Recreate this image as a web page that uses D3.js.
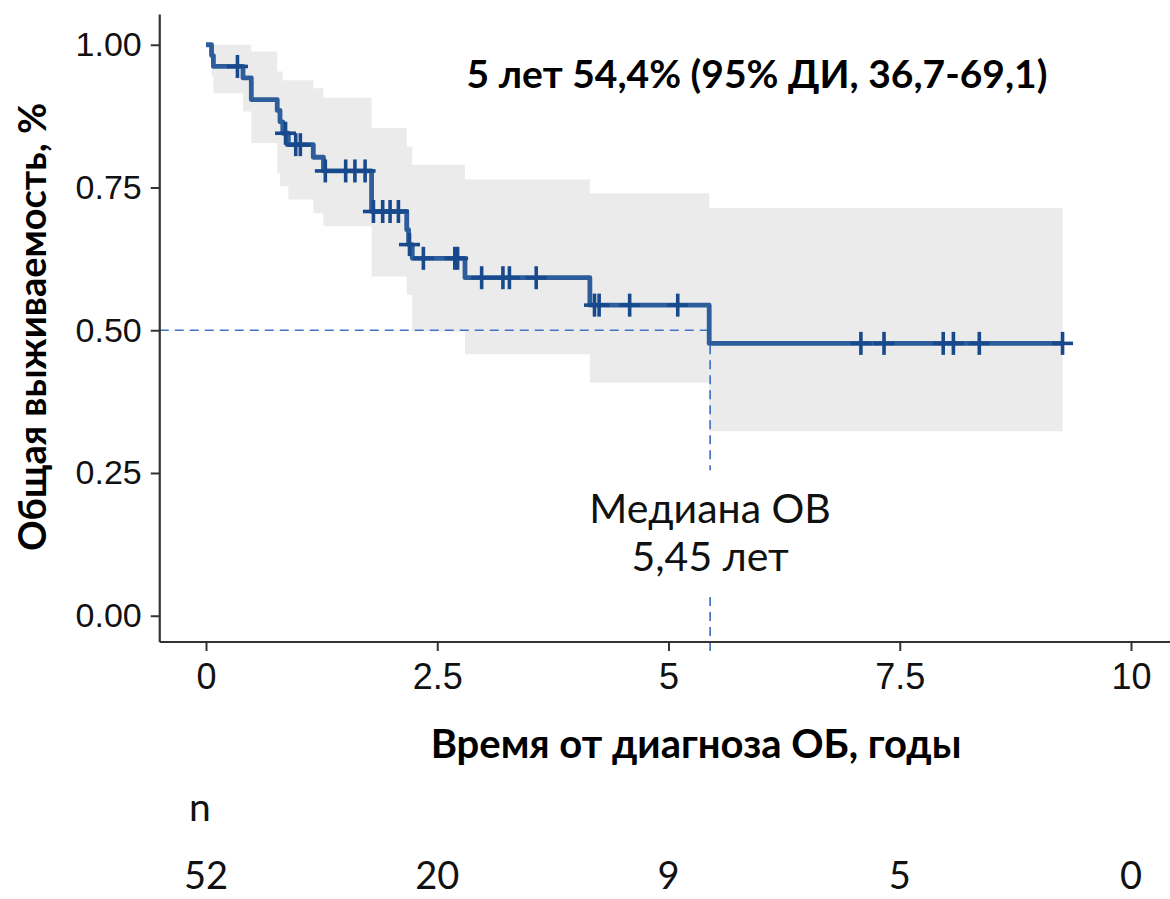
<!DOCTYPE html>
<html>
<head>
<meta charset="utf-8">
<script src="https://cdn.jsdelivr.net/npm/d3@7"></script>
<style>
  html, body { margin: 0; padding: 0; background: #fff; }
  svg { display: block; }
</style>
</head>
<body>
<svg id="chart" width="1170" height="899"></svg>
<script>
// Kaplan–Meier estimate: event times (years) and survival right after each event
const eventTimes = [0.06, 0.08, 0.40, 0.49, 0.77, 0.80, 0.83, 0.89, 1.16, 1.27, 1.79, 2.17, 2.19, 2.23, 2.80, 4.15, 5.44];
const survival   = [0.981, 0.962, 0.942, 0.904, 0.885, 0.865, 0.845, 0.825, 0.803, 0.779, 0.708, 0.676, 0.650, 0.626, 0.592, 0.544, 0.477];

// Censored observations (years)
const censorTimes = [0.34, 0.86, 0.97, 1.02, 1.29, 1.51, 1.61, 1.72, 1.81, 1.91, 1.99, 2.08, 2.20, 2.35, 2.69, 2.72,
                     2.98, 3.21, 3.28, 3.57, 4.20, 4.25, 4.58, 5.10, 7.08, 7.33, 7.97, 8.08, 8.36, 9.26];

// 95% confidence band, piecewise constant from each start time
const bandTimes = [0, 0.06, 0.08, 0.40, 0.49, 0.77, 0.80, 0.83, 0.89, 1.16, 1.27, 1.79, 2.17, 2.19, 2.23, 2.80, 4.15, 5.44, 9.26];
const bandUpper = [1.0, 1.0, 1.0, 1.0, 0.988, 0.953, 0.953, 0.938, 0.938, 0.924, 0.907, 0.854, 0.822, 0.822, 0.790, 0.764, 0.740, 0.714, 0.714];
const bandLower = [1.0, 0.945, 0.915, 0.883, 0.828, 0.775, 0.752, 0.752, 0.729, 0.705, 0.682, 0.594, 0.562, 0.562, 0.498, 0.458, 0.408, 0.323, 0.323];

// Axis ticks
const xTicks = [0, 2.5, 5, 7.5, 10];
const xTickLabels = ["0", "2.5", "5", "7.5", "10"];
const yTicks = [0, 0.25, 0.5, 0.75, 1.0];
const yTickLabels = ["0.00", "0.25", "0.50", "0.75", "1.00"];

// Number at risk at each x tick
const atRisk = [52, 20, 9, 5, 0];

const medianTime = 5.45;
const medianSurv = 0.5;

const titleText = "5 лет 54,4% (95% ДИ, 36,7-69,1)";
const xTitle = "Время от диагноза ОБ, годы";
const yTitle = "Общая выживаемость, %";
const medianLines = ["Медиана ОВ", "5,45 лет"];

const svg = d3.select("#chart");

const x = d3.scaleLinear().domain([-0.5, 10.5]).range([159.75, 1177.25]);
const y = d3.scaleLinear().domain([-0.046, 1.053]).range([642, 14.5]);

const sansNarrow = "'Liberation Sans Narrow', 'Liberation Sans', Arial, sans-serif";
const sans = "'Liberation Sans', Arial, sans-serif";
const humanist = "Lato, 'Open Sans', sans-serif";

// Confidence band
const band = bandTimes.map((t, i) => ({ t, lo: bandLower[i], hi: bandUpper[i] }));
svg.append("path")
  .datum(band)
  .attr("fill", "#ebebeb")
  .attr("d", d3.area()
    .curve(d3.curveStepAfter)
    .x(d => x(d.t))
    .y0(d => y(d.lo))
    .y1(d => y(d.hi)));

// Median reference lines
const dashColor = "#4472c4";
const dash = sel => sel.attr("stroke", dashColor).attr("stroke-width", 1.7).attr("stroke-dasharray", "9,6");
svg.append("line")
  .attr("x1", x(-0.5)).attr("x2", x(medianTime))
  .attr("y1", y(medianSurv)).attr("y2", y(medianSurv))
  .call(dash);
svg.append("line")
  .attr("x1", x(medianTime)).attr("x2", x(medianTime))
  .attr("y1", y(medianSurv)).attr("y2", y(0.255))
  .call(dash);
svg.append("line")
  .attr("x1", x(medianTime)).attr("x2", x(medianTime))
  .attr("y1", y(0.033)).attr("y2", y(-0.072))
  .call(dash);

// Survival step curve
const lastCensor = censorTimes[censorTimes.length - 1];
const curvePts = [{ t: 0, s: 1 }]
  .concat(eventTimes.map((t, i) => ({ t, s: survival[i] })))
  .concat([{ t: lastCensor, s: survival[survival.length - 1] }]);
const survAt = t => {
  let s = 1;
  eventTimes.forEach((et, i) => { if (et <= t) s = survival[i]; });
  return s;
};
svg.append("path")
  .datum(curvePts)
  .attr("fill", "none")
  .attr("stroke", "#2e5d9b")
  .attr("stroke-width", 4.8)
  .attr("stroke-linejoin", "round")
  .attr("d", d3.line().curve(d3.curveStepAfter).x(d => x(d.t)).y(d => y(d.s)));

// Censor marks
const marks = svg.append("g").attr("stroke", "#17498c").attr("stroke-width", 3.6);
censorTimes.forEach(t => {
  const cx = x(t), cy = y(survAt(t));
  marks.append("line").attr("x1", cx - 10.5).attr("x2", cx + 10.5).attr("y1", cy).attr("y2", cy);
  marks.append("line").attr("x1", cx).attr("x2", cx).attr("y1", cy - 11.5).attr("y2", cy + 11.5);
});

// Axes
const axisColor = "#333333";
const xAxis = svg.append("g")
  .attr("transform", `translate(0,${y(-0.046)})`)
  .call(d3.axisBottom(x).tickValues(xTicks).tickSize(9).tickPadding(12)
    .tickFormat((d, i) => xTickLabels[i]));
xAxis.select(".domain").attr("stroke", axisColor).attr("stroke-width", 2.2);
xAxis.selectAll(".tick line").attr("stroke", axisColor).attr("stroke-width", 2);
xAxis.selectAll(".tick text")
  .attr("fill", "#111").attr("font-family", sansNarrow).attr("font-size", 36);

const yAxis = svg.append("g")
  .attr("transform", `translate(${x(-0.5)},0)`)
  .call(d3.axisLeft(y).tickValues(yTicks).tickSize(9).tickPadding(9)
    .tickFormat((d, i) => yTickLabels[i]));
yAxis.select(".domain").attr("stroke", axisColor).attr("stroke-width", 2.2);
yAxis.selectAll(".tick line").attr("stroke", axisColor).attr("stroke-width", 2);
yAxis.selectAll(".tick text")
  .attr("fill", "#111").attr("font-family", sans).attr("font-size", 34);

// Plain axis lines meeting at the corner
xAxis.select(".domain").attr("d", `M${x(-0.5)},0H${x(10.5)}`);
yAxis.select(".domain").attr("d", `M0,${y(1.053)}V${y(-0.046)}`);

// Titles
svg.append("text")
  .attr("x", 757).attr("y", 88)
  .attr("text-anchor", "middle")
  .attr("font-family", humanist).attr("font-weight", "bold").attr("font-size", 39)
  .attr("fill", "#000")
  .text(titleText);

svg.append("text")
  .attr("x", 696).attr("y", 758)
  .attr("text-anchor", "middle")
  .attr("font-family", humanist).attr("font-weight", "bold").attr("font-size", 40)
  .attr("fill", "#000")
  .text(xTitle);

svg.append("text")
  .attr("transform", `translate(46,327) rotate(-90)`)
  .attr("text-anchor", "middle")
  .attr("font-family", humanist).attr("font-weight", "bold").attr("font-size", 38)
  .attr("fill", "#000")
  .text(yTitle);

// Median annotation
svg.append("text")
  .attr("x", x(medianTime)).attr("y", 523)
  .attr("text-anchor", "middle")
  .attr("font-family", humanist).attr("font-size", 41)
  .attr("fill", "#111")
  .text(medianLines[0]);
svg.append("text")
  .attr("x", x(medianTime)).attr("y", 571)
  .attr("text-anchor", "middle")
  .attr("font-family", humanist).attr("font-size", 41)
  .attr("fill", "#111")
  .text(medianLines[1]);

// Number-at-risk row
svg.append("text")
  .attr("x", x(0) - 6).attr("y", 821)
  .attr("text-anchor", "middle")
  .attr("font-family", humanist).attr("font-size", 39)
  .attr("fill", "#111")
  .text("n");
svg.append("g").selectAll("text")
  .data(atRisk)
  .join("text")
  .attr("x", (d, i) => x(xTicks[i]))
  .attr("y", 889)
  .attr("text-anchor", "middle")
  .attr("font-family", humanist).attr("font-size", 38)
  .attr("fill", "#111")
  .text(d => d);
</script>
</body>
</html>
